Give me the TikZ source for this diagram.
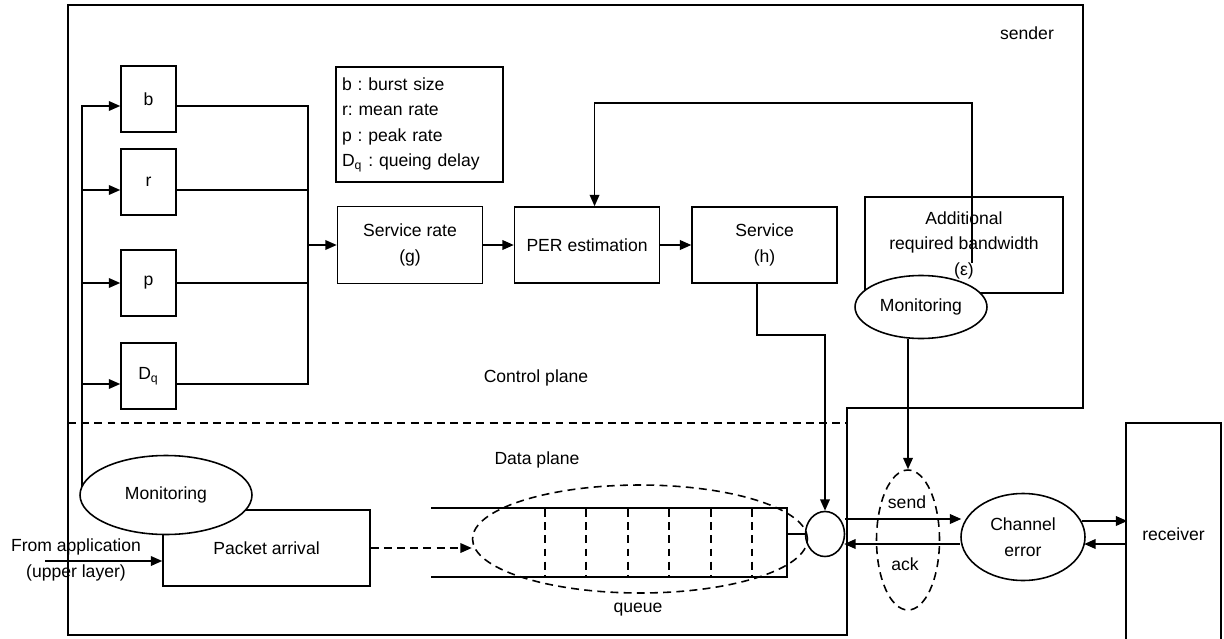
\documentclass[tikz,border=0pt]{standalone}
\usepackage{fontspec}
\setmainfont{Liberation Sans}
\usetikzlibrary{arrows.meta, shapes.geometric, positioning}
\frenchspacing

\tikzset{
	every node/.style={font=\fontsize{10}{14.5}\selectfont},
	blk/.style={draw, rectangle, align=center, inner sep=0pt},
	mon/.style={draw, ellipse, fill=white, inner sep=0pt, minimum width=2.64cm, minimum height=1.26cm},
	plain/.style={inner sep=0pt, align=center},
	arr/.style={-{Triangle[length=6.5pt, width=5.5pt]}},
	ddash/.style={dash pattern=on 4.5pt off 3pt}
}

\begin{document}
\begin{tikzpicture}[x=0.02cm, y=-0.02cm, line width=0.9pt]
	\useasboundingbox (0,0) rectangle (1224,639);
	\draw (68,5) -- (1083,5) -- (1083,408) -- (847,408) -- (847,635) -- (68,635) -- cycle;
	\draw[ddash] (68,423) -- (847,423);
	\node[plain] (sender) at (1027,33) {sender};
	\node[plain] (cplane) at (536,378) {Control plane};
	\node[plain] (dplane) at (537,460) {Data plane};

	\coordinate (bus) at (82,106);
	\coordinate (join) at (308,106);
	\foreach \n/\t/\y/\s in {b/b/99/-0.14cm, r/r/182/-0.16cm, p/p/283/0cm, dq/{D\textsubscript{q}}/376/-0.16cm} {
		\node[blk, minimum width=1.1cm, minimum height=1.32cm] (\n) at (148.5,\y) {\t};
		\draw[arr] ([yshift=\s]\n.west) ++(-39,0) -- ([yshift=\s]\n.west);
		\draw ([yshift=\s]\n.east) -- ++(132,0);
	}
	\draw (join) -- ++(0,278);

	\node[blk, align=left, text width=3.1cm, minimum width=3.34cm, minimum height=2.3cm] (legend) at (419.5,124.5)
		{b : burst size\\r: mean rate\\p : peak rate\\D\textsubscript{q} : queing delay};

	\node[blk, minimum width=2.9cm, minimum height=1.54cm] (srate) at (410,245) {Service rate\\(g)};
	\node[blk, minimum width=2.9cm, minimum height=1.52cm, right=0.61cm of srate] (per) {PER estimation};
	\node[blk, minimum width=2.9cm, minimum height=1.52cm, right=0.62cm of per] (serv) {Service\\(h)};
	\node[blk, minimum width=3.96cm, minimum height=1.92cm] (add) at (964,245) {Additional\\required bandwidth\\(ε)};
	\draw[arr] (join |- srate.west) -- (srate.west);
	\draw[arr] (srate.east) -- (per.west);
	\draw[arr] (per.east) -- (serv.west);
	\draw[arr] ([shift={(0.16cm,-0.36cm)}]add.center) -- ++(0,-160) -| ([xshift=0.15cm]per.north);
	\node[mon] (mon2) at (921,307) {Monitoring};

	\node[blk, minimum width=4.14cm, minimum height=1.52cm] (pa) at (266.5,548) {Packet arrival};
	\draw (bus) -- (bus |- 0,495);
	\node[mon, minimum width=3.44cm, minimum height=1.58cm] (mon1) at (166,495) {Monitoring};
	\node[plain] (app) at (76,560) {From application\\(upper layer)};
	\coordinate (appin) at (45,561);
	\draw[arr] (appin) -- (appin -| pa.west);

	\node[minimum width=7.08cm, minimum height=1.34cm, inner sep=0pt] (q) at (609,542.5) {};
	\draw (q.north west) -- (q.north east) -- (q.south east) -- (q.south west);
	\foreach \x in {545,586,628,669,711,752}
		\draw[ddash] (\x,509) -- (\x,576);
	\node[draw, ddash, ellipse, minimum width=6.7cm, minimum height=2.16cm] (qell) at (640,539) {};
	\node[plain] (qlabel) at (638,610) {queue};
	\draw[arr, ddash] (pa.east) -- (pa.east -| qell.west);

	\node[draw, ellipse, inner sep=0pt, minimum width=0.78cm, minimum height=0.9cm] (srv) at (825,534) {};
	\draw (srv.west -| q.east) -- (srv.west);
	\draw[arr] ([xshift=-0.15cm]serv.south) -- ++(0,51) -| (srv.north);

	\node[draw, ddash, ellipse, minimum width=1.26cm, minimum height=2.8cm] (sa) at (908,540) {};
	\node[plain] (send) at (907,502) {send};
	\node[plain] (ack) at (905,564) {ack};
	\node[draw, ellipse, inner sep=0pt, minimum width=2.48cm, minimum height=1.74cm, align=center] (ch) at (1023,537) {Channel\\error};
	\node[blk, minimum width=1.9cm, minimum height=4.44cm] (recv) at (1173.5,534) {receiver};
	\draw[arr] (mon2.south -| sa.north) -- (sa.north);
	\draw[arr] ([yshift=0.3cm]srv.east) -- ++(116,0);
	\draw[arr] ([yshift=-0.14cm]ch.west) -- ++(-116,0);
	\draw[arr] ([shift={(-0.08cm,0.32cm)}]ch.east) -- ++(45.5,0);
	\draw[arr] ([yshift=-0.2cm]recv.west) -- ++(-41,0);
\end{tikzpicture}
\end{document}
